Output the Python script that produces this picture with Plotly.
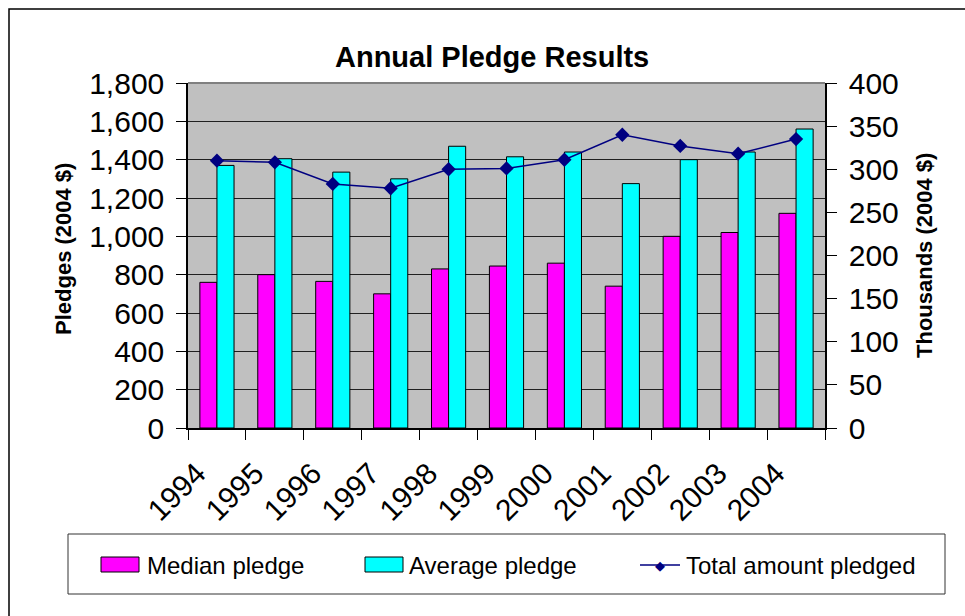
import plotly.graph_objects as go

# Pledge data, 1994-2004 (2004 dollars)
years = ["1994", "1995", "1996", "1997", "1998", "1999", "2000", "2001", "2002", "2003", "2004"]
median_pledge = [760, 800, 765, 700, 830, 845, 860, 740, 1000, 1020, 1120]
average_pledge = [1370, 1405, 1335, 1300, 1470, 1415, 1440, 1275, 1400, 1440, 1560]
total_pledged = [310, 308, 283, 278, 300, 301, 311, 340, 327, 318, 335]  # thousands

W, H = 965, 616
L, R, T, B = 188, 140, 83, 188
PW, PH = W - L - R, H - T - B

FONT = "Liberation Sans, Arial, sans-serif"
MAGENTA, CYAN, NAVY = "#FF00FF", "#00FFFF", "#000080"


def px(x):
    return (x - L) / PW


def py(y):
    return (H - B - y) / PH


fig = go.Figure()
fig.add_trace(go.Bar(x=years, y=median_pledge, name="Median pledge",
                     marker=dict(color=MAGENTA, line=dict(color="#000000", width=1))))
fig.add_trace(go.Bar(x=years, y=average_pledge, name="Average pledge",
                     marker=dict(color=CYAN, line=dict(color="#000000", width=1))))
fig.add_trace(go.Scatter(x=years, y=total_pledged, name="Total amount pledged", yaxis="y2",
                         mode="lines+markers",
                         line=dict(color=NAVY, width=1.5),
                         marker=dict(symbol="diamond", size=11, color=NAVY)))

shapes = [
    # chart frame
    dict(type="rect", xref="paper", yref="paper", x0=px(9), x1=px(980), y0=py(630), y1=py(9),
         line=dict(color="#000000", width=1.5), layer="below"),
    # top edge of plot area
    dict(type="line", xref="paper", yref="paper", x0=0, x1=1, y0=1, y1=1,
         line=dict(color="#808080", width=2)),
    # legend box
    dict(type="rect", xref="paper", yref="paper", x0=px(68), x1=px(945), y0=py(594), y1=py(534),
         line=dict(color="#333333", width=1)),
    # legend swatches
    dict(type="rect", xref="paper", yref="paper", x0=px(101), x1=px(139), y0=py(572), y1=py(557),
         fillcolor=MAGENTA, line=dict(color="#000000", width=1)),
    dict(type="rect", xref="paper", yref="paper", x0=px(365), x1=px(403), y0=py(572), y1=py(557),
         fillcolor=CYAN, line=dict(color="#000000", width=1)),
    dict(type="line", xref="paper", yref="paper", x0=px(640), x1=px(680), y0=py(565), y1=py(565),
         line=dict(color=NAVY, width=1.5)),
]

annotations = [
    dict(text="<b>Annual Pledge Results</b>", xref="paper", yref="paper", x=px(492), y=py(57),
         showarrow=False, font=dict(family=FONT, size=29, color="#000000"),
         xanchor="center", yanchor="middle"),
    dict(text="<b>Pledges (2004 $)</b>", xref="paper", yref="paper", x=px(63), y=py(249),
         showarrow=False, textangle=-90, font=dict(family=FONT, size=22, color="#000000"),
         xanchor="center", yanchor="middle"),
    dict(text="<b>Thousands (2004 $)</b>", xref="paper", yref="paper", x=px(925), y=py(256),
         showarrow=False, textangle=-90, font=dict(family=FONT, size=22, color="#000000"),
         xanchor="center", yanchor="middle"),
    dict(text="Median pledge", xref="paper", yref="paper", x=px(145), y=py(565),
         showarrow=False, font=dict(family=FONT, size=24, color="#000000"),
         xanchor="left", yanchor="middle"),
    dict(text="Average pledge", xref="paper", yref="paper", x=px(407), y=py(565),
         showarrow=False, font=dict(family=FONT, size=24, color="#000000"),
         xanchor="left", yanchor="middle"),
    dict(text="Total amount pledged", xref="paper", yref="paper", x=px(684), y=py(565),
         showarrow=False, font=dict(family=FONT, size=24, color="#000000"),
         xanchor="left", yanchor="middle"),
    # diamond marker in the line legend entry
    dict(text="\u25C6", xref="paper", yref="paper", x=px(660), y=py(565),
         showarrow=False, font=dict(family="DejaVu Sans", size=13, color=NAVY),
         xanchor="center", yanchor="middle"),
]

fig.update_layout(
    width=W, height=H,
    margin=dict(l=L, r=R, t=T, b=B, pad=0),
    paper_bgcolor="#FFFFFF",
    plot_bgcolor="#C0C0C0",
    showlegend=False,
    barmode="group",
    bargap=0.41,
    bargroupgap=0,
    font=dict(family=FONT, color="#000000"),
    xaxis=dict(type="category", range=[-0.5, 10.5], autorange=False,
               showgrid=False, showline=True, linecolor="#000000", linewidth=1.5,
               ticks="outside", ticklen=10, tickcolor="#000000", tickson="boundaries",
               tickangle=-45, tickfont=dict(family=FONT, size=30, color="#000000"),
               zeroline=False, mirror=False, ticklabelstandoff=14, ticklabelshift=-20),
    yaxis=dict(range=[0, 1800], dtick=200, tickformat=",", showgrid=True, gridcolor="#202020",
               gridwidth=1, showline=True, linecolor="#000000", linewidth=1.5,
               ticks="outside", ticklen=10, tickcolor="#000000",
               tickfont=dict(family=FONT, size=30, color="#000000"), zeroline=False,
               ticklabelstandoff=6),
    yaxis2=dict(range=[0, 400], dtick=50, overlaying="y", side="right", showgrid=False,
                showline=True, linecolor="#000000", linewidth=1.5,
                ticks="outside", ticklen=10, tickcolor="#000000",
                tickfont=dict(family=FONT, size=30, color="#000000"), zeroline=False,
                ticklabelstandoff=6),
    shapes=shapes,
    annotations=annotations,
)

fig.write_html("out.html")
